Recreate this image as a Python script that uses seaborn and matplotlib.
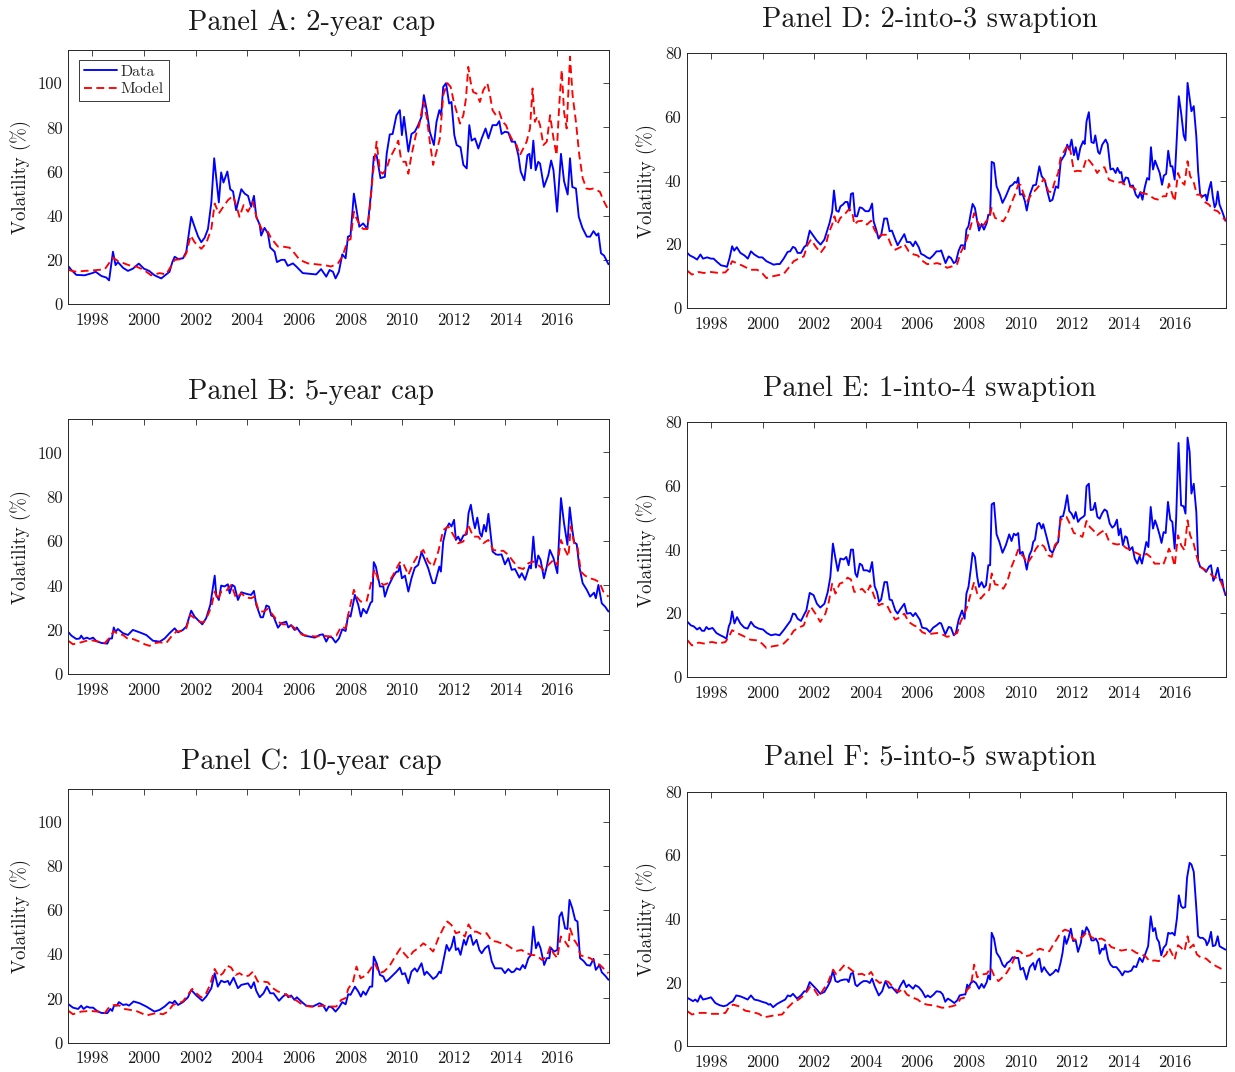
import matplotlib
matplotlib.use("Agg")
import matplotlib.pyplot as plt
import seaborn as sns

# ---------------------------------------------------------------------------
# Implied volatilities (%), observed ("Data") and fitted ("Model"),
# as (year, value) pairs.
# ---------------------------------------------------------------------------
CAP2_DATA = [
    (1997.08, 17.0), (1997.19, 15.4), (1997.38, 13.2), (1997.7, 13.0), (1998.0, 14.0), (1998.13, 14.6),
    (1998.35, 12.7), (1998.54, 12.0), (1998.65, 10.7), (1998.8, 23.7), (1998.9, 17.6), (1998.99, 19.0),
    (1999.19, 16.4), (1999.38, 15.0), (1999.57, 16.0), (1999.8, 18.3), (2000.0, 16.0), (2000.2, 15.0),
    (2000.41, 13.0), (2000.67, 11.6), (2000.99, 14.6), (2001.1, 19.0), (2001.19, 21.4), (2001.32, 20.4),
    (2001.51, 20.7), (2001.64, 23.7), (2001.83, 39.5), (2001.96, 35.0), (2002.1, 30.5), (2002.22, 28.0),
    (2002.35, 30.0), (2002.48, 34.0), (2002.61, 46.0), (2002.72, 66.0), (2002.9, 46.0), (2002.99, 59.6),
    (2003.08, 55.0), (2003.23, 60.0), (2003.34, 52.0), (2003.45, 51.0), (2003.57, 42.5), (2003.77, 52.0),
    (2003.9, 50.0), (2004.03, 49.0), (2004.15, 44.0), (2004.26, 49.0), (2004.35, 39.5), (2004.48, 36.0),
    (2004.54, 31.0), (2004.67, 34.5), (2004.8, 32.0), (2004.89, 25.6), (2005.06, 23.7), (2005.15, 19.0),
    (2005.32, 20.0), (2005.45, 20.0), (2005.57, 17.3), (2005.77, 18.4), (2005.9, 17.0), (2006.15, 14.0),
    (2006.67, 13.4), (2006.86, 15.8), (2007.06, 12.4), (2007.19, 15.4), (2007.32, 14.6), (2007.42, 11.6),
    (2007.55, 14.6), (2007.68, 22.5), (2007.81, 20.7), (2007.9, 30.5), (2008.0, 31.0), (2008.13, 50.0),
    (2008.23, 43.0), (2008.34, 35.0), (2008.49, 36.5), (2008.65, 34.0), (2008.81, 52.0), (2008.9, 66.7),
    (2009.01, 67.4), (2009.16, 57.0), (2009.33, 57.6), (2009.4, 68.0), (2009.52, 76.8), (2009.63, 77.0),
    (2009.78, 85.5), (2009.91, 87.8), (2009.99, 76.5), (2010.07, 84.8), (2010.24, 69.0), (2010.36, 77.0),
    (2010.49, 78.0), (2010.62, 81.0), (2010.75, 84.8), (2010.84, 94.6), (2010.95, 87.8), (2011.07, 78.0),
    (2011.23, 72.0), (2011.33, 82.5), (2011.44, 87.8), (2011.51, 85.5), (2011.59, 98.3), (2011.7, 100.0),
    (2011.82, 90.8), (2011.91, 91.5), (2012.02, 76.5), (2012.11, 72.0), (2012.26, 71.0), (2012.37, 63.0),
    (2012.5, 61.4), (2012.6, 81.0), (2012.69, 74.0), (2012.82, 75.0), (2012.95, 70.4), (2013.08, 75.0),
    (2013.23, 79.5), (2013.34, 75.0), (2013.5, 81.0), (2013.66, 81.0), (2013.76, 82.8), (2013.85, 77.0),
    (2013.98, 78.0), (2014.11, 77.7), (2014.24, 73.5), (2014.37, 73.5), (2014.5, 67.4), (2014.59, 60.0),
    (2014.73, 56.0), (2014.85, 67.4), (2014.93, 68.0), (2014.99, 61.4), (2015.08, 74.0), (2015.17, 60.6),
    (2015.27, 64.4), (2015.34, 63.6), (2015.49, 53.0), (2015.66, 58.4), (2015.77, 65.0), (2015.86, 60.6),
    (2016.0, 41.8), (2016.15, 68.0), (2016.27, 55.6), (2016.41, 49.6), (2016.5, 66.0), (2016.59, 53.0),
    (2016.73, 52.3), (2016.84, 39.5), (2016.98, 34.5), (2017.15, 30.5), (2017.28, 30.5), (2017.41, 33.0),
    (2017.53, 31.0), (2017.6, 32.0), (2017.7, 23.0), (2017.82, 21.9), (2017.99, 18.0),
]
CAP2_MODEL = [
    (1997.08, 15.4), (1997.38, 14.6), (1997.7, 15.0), (1998.0, 15.2), (1998.48, 15.7), (1998.8, 21.0),
    (1998.99, 19.5), (1999.32, 18.0), (1999.57, 17.0), (1999.7, 17.0), (2000.0, 15.4), (2000.28, 13.0),
    (2000.61, 14.0), (2000.86, 13.4), (2001.19, 20.0), (2001.51, 20.4), (2001.64, 23.0), (2001.81, 31.0),
    (2001.96, 28.0), (2002.22, 25.0), (2002.41, 27.5), (2002.61, 34.0), (2002.74, 45.5), (2002.9, 41.0),
    (2003.03, 43.3), (2003.25, 47.0), (2003.45, 49.0), (2003.57, 44.8), (2003.7, 39.5), (2003.86, 44.8),
    (2004.03, 41.8), (2004.22, 46.3), (2004.37, 38.8), (2004.61, 32.7), (2004.8, 32.7), (2004.93, 29.7),
    (2005.19, 26.0), (2005.38, 26.0), (2005.64, 25.5), (2005.83, 23.0), (2006.03, 20.0), (2006.35, 18.4),
    (2006.67, 18.0), (2006.99, 17.6), (2007.25, 17.0), (2007.51, 18.4), (2007.68, 21.4), (2007.9, 29.0),
    (2008.0, 29.3), (2008.13, 41.8), (2008.23, 38.8), (2008.36, 35.7), (2008.49, 34.0), (2008.65, 34.0),
    (2008.75, 43.3), (2008.85, 57.0), (2009.01, 73.5), (2009.14, 60.0), (2009.25, 59.0), (2009.4, 61.4),
    (2009.52, 66.0), (2009.72, 70.4), (2009.85, 74.0), (2009.95, 66.0), (2010.04, 64.4), (2010.14, 64.4),
    (2010.24, 59.0), (2010.36, 67.4), (2010.53, 76.5), (2010.66, 81.0), (2010.82, 91.5), (2010.95, 84.8),
    (2011.07, 73.5), (2011.2, 63.0), (2011.33, 69.0), (2011.46, 75.0), (2011.59, 94.6), (2011.75, 100.0),
    (2011.88, 98.3), (2012.0, 91.5), (2012.11, 87.0), (2012.24, 81.7), (2012.37, 85.5), (2012.47, 93.0),
    (2012.56, 107.4), (2012.65, 100.6), (2012.75, 96.0), (2012.88, 95.3), (2013.01, 91.5), (2013.14, 96.8),
    (2013.3, 100.0), (2013.4, 94.6), (2013.5, 87.8), (2013.63, 85.5), (2013.76, 87.0), (2013.89, 82.5),
    (2014.02, 81.0), (2014.17, 76.5), (2014.3, 73.5), (2014.43, 72.0), (2014.56, 67.4), (2014.69, 70.4),
    (2014.82, 73.5), (2014.95, 79.5), (2015.05, 97.6), (2015.14, 82.5), (2015.23, 84.8), (2015.34, 81.0),
    (2015.47, 72.0), (2015.6, 73.5), (2015.73, 85.5), (2015.86, 75.0), (2015.98, 67.4), (2016.09, 91.5),
    (2016.18, 106.0), (2016.27, 87.0), (2016.37, 79.5), (2016.5, 112.0), (2016.6, 94.6), (2016.73, 82.5),
    (2016.86, 67.4), (2016.99, 57.0), (2017.14, 52.3), (2017.27, 52.0), (2017.4, 52.3), (2017.53, 51.6),
    (2017.66, 50.8), (2017.79, 47.0), (2017.99, 42.5),
]

CAP5_DATA = [
    (1997.08, 18.8), (1997.19, 17.3), (1997.38, 15.8), (1997.51, 16.0), (1997.57, 17.3), (1997.66, 15.8),
    (1997.79, 16.4), (1997.9, 15.8), (1998.03, 16.4), (1998.15, 14.9), (1998.35, 14.0), (1998.58, 13.7),
    (1998.67, 16.0), (1998.76, 16.0), (1998.83, 21.0), (1998.9, 19.0), (1998.99, 20.3), (1999.19, 18.4),
    (1999.38, 17.6), (1999.57, 19.9), (1999.83, 18.8), (2000.09, 17.6), (2000.35, 15.0), (2000.61, 14.6),
    (2000.8, 16.0), (2000.99, 18.4), (2001.19, 20.6), (2001.32, 18.8), (2001.51, 19.9), (2001.64, 21.4),
    (2001.83, 28.6), (2001.96, 25.9), (2002.09, 24.4), (2002.26, 22.4), (2002.41, 25.2), (2002.57, 31.2),
    (2002.74, 44.4), (2002.8, 35.7), (2002.9, 33.4), (2002.99, 39.9), (2003.12, 39.5), (2003.25, 40.5),
    (2003.32, 36.4), (2003.42, 40.2), (2003.51, 39.5), (2003.64, 33.4), (2003.77, 36.9), (2003.9, 36.4),
    (2004.03, 36.0), (2004.15, 35.7), (2004.26, 37.5), (2004.35, 31.2), (2004.52, 25.6), (2004.61, 25.6),
    (2004.74, 30.9), (2004.84, 30.4), (2004.93, 26.4), (2005.02, 25.9), (2005.19, 20.9), (2005.32, 22.9),
    (2005.51, 23.6), (2005.59, 21.0), (2005.7, 22.1), (2005.83, 19.9), (2005.92, 21.0), (2006.03, 19.1),
    (2006.22, 17.3), (2006.41, 16.9), (2006.61, 16.4), (2006.8, 17.6), (2006.93, 17.9), (2007.06, 14.6),
    (2007.16, 16.9), (2007.29, 16.4), (2007.42, 14.2), (2007.55, 16.0), (2007.68, 20.2), (2007.81, 19.4),
    (2007.91, 26.7), (2008.0, 25.9), (2008.17, 35.7), (2008.3, 31.2), (2008.4, 25.9), (2008.49, 29.4),
    (2008.62, 27.4), (2008.78, 32.2), (2008.84, 32.7), (2008.9, 50.5), (2008.98, 48.5), (2009.14, 39.5),
    (2009.27, 39.5), (2009.33, 34.9), (2009.46, 39.5), (2009.65, 44.0), (2009.78, 46.2), (2009.85, 46.2),
    (2009.91, 48.9), (2009.99, 43.2), (2010.11, 44.4), (2010.24, 37.2), (2010.36, 43.2), (2010.49, 48.0),
    (2010.62, 49.2), (2010.75, 55.0), (2010.88, 51.5), (2011.01, 47.7), (2011.18, 41.0), (2011.27, 41.0),
    (2011.44, 48.5), (2011.5, 46.2), (2011.59, 59.8), (2011.7, 65.5), (2011.82, 68.0), (2011.91, 66.6),
    (2012.01, 69.6), (2012.08, 60.5), (2012.17, 62.0), (2012.26, 59.8), (2012.37, 62.5), (2012.5, 63.1),
    (2012.57, 72.6), (2012.66, 76.4), (2012.75, 69.6), (2012.82, 65.8), (2012.91, 70.6), (2013.01, 63.6),
    (2013.08, 62.0), (2013.17, 67.3), (2013.25, 64.3), (2013.34, 72.3), (2013.5, 55.3), (2013.63, 54.0),
    (2013.72, 53.8), (2013.85, 54.0), (2013.98, 49.5), (2014.11, 52.3), (2014.24, 47.0), (2014.37, 47.4),
    (2014.54, 43.5), (2014.63, 45.5), (2014.76, 42.5), (2014.93, 48.9), (2014.99, 47.7), (2015.08, 62.0),
    (2015.18, 48.0), (2015.27, 53.5), (2015.36, 51.5), (2015.49, 43.2), (2015.6, 48.5), (2015.72, 56.0),
    (2015.86, 52.3), (2016.01, 45.5), (2016.15, 79.4), (2016.27, 68.0), (2016.4, 58.3), (2016.49, 75.2),
    (2016.59, 65.0), (2016.66, 59.5), (2016.76, 58.6), (2016.86, 48.5), (2016.99, 41.0), (2017.15, 38.0),
    (2017.28, 34.9), (2017.43, 36.7), (2017.5, 34.2), (2017.6, 40.2), (2017.73, 31.9), (2017.86, 30.4),
    (2017.99, 28.2),
]
CAP5_MODEL = [
    (1997.08, 14.9), (1997.25, 13.4), (1997.57, 14.3), (1997.9, 15.4), (1998.22, 14.6), (1998.48, 13.9),
    (1998.67, 16.4), (1998.83, 19.4), (1998.99, 18.0), (1999.19, 17.6), (1999.38, 15.8), (1999.57, 15.8),
    (1999.83, 14.6), (2000.03, 13.4), (2000.22, 12.7), (2000.41, 13.9), (2000.61, 14.3), (2000.86, 13.9),
    (2001.06, 16.9), (2001.25, 19.1), (2001.45, 19.4), (2001.64, 20.6), (2001.79, 26.7), (2001.96, 25.2),
    (2002.15, 23.6), (2002.31, 23.3), (2002.48, 26.7), (2002.61, 30.4), (2002.74, 37.2), (2002.86, 33.4),
    (2002.99, 37.2), (2003.19, 37.5), (2003.38, 40.2), (2003.57, 34.2), (2003.77, 36.4), (2003.96, 34.5),
    (2004.15, 34.2), (2004.28, 34.9), (2004.45, 28.2), (2004.63, 28.2), (2004.8, 29.4), (2004.99, 26.7),
    (2005.19, 23.6), (2005.38, 22.4), (2005.57, 22.4), (2005.77, 21.4), (2005.96, 19.1), (2006.15, 17.6),
    (2006.41, 17.2), (2006.67, 16.9), (2006.93, 17.3), (2007.19, 16.9), (2007.45, 17.3), (2007.64, 21.4),
    (2007.81, 20.6), (2007.91, 26.7), (2008.13, 38.0), (2008.23, 34.9), (2008.39, 32.7), (2008.62, 32.7),
    (2008.81, 41.7), (2008.94, 47.4), (2009.07, 42.5), (2009.27, 40.2), (2009.46, 41.0), (2009.65, 44.7),
    (2009.85, 49.2), (2009.94, 50.8), (2010.07, 49.2), (2010.24, 44.7), (2010.43, 50.0), (2010.62, 53.8),
    (2010.82, 56.0), (2011.01, 50.8), (2011.2, 48.5), (2011.4, 55.3), (2011.59, 65.0), (2011.79, 66.6),
    (2011.98, 62.8), (2012.17, 59.0), (2012.37, 59.8), (2012.56, 67.3), (2012.75, 62.0), (2012.95, 62.0),
    (2013.14, 59.0), (2013.34, 60.5), (2013.53, 56.0), (2013.72, 55.6), (2013.92, 55.6), (2014.11, 53.8),
    (2014.3, 50.8), (2014.5, 48.0), (2014.69, 47.4), (2014.89, 50.0), (2015.08, 50.8), (2015.27, 49.2),
    (2015.47, 47.0), (2015.66, 49.2), (2015.86, 51.5), (2016.01, 49.2), (2016.15, 60.5), (2016.31, 56.0),
    (2016.44, 53.0), (2016.53, 66.6), (2016.66, 59.0), (2016.79, 57.5), (2016.92, 46.2), (2017.08, 44.4),
    (2017.28, 43.2), (2017.47, 42.5), (2017.64, 41.4), (2017.79, 37.2), (2017.99, 34.9),
]

CAP10_DATA = [
    (1997.08, 17.3), (1997.25, 15.8), (1997.45, 15.2), (1997.57, 16.7), (1997.66, 15.2), (1997.79, 16.3),
    (1997.9, 15.8), (1998.03, 15.8), (1998.18, 14.3), (1998.35, 13.4), (1998.58, 13.3), (1998.7, 15.2),
    (1998.77, 14.3), (1998.84, 16.7), (1998.95, 16.7), (1999.03, 18.3), (1999.19, 17.0), (1999.32, 17.3),
    (1999.42, 16.7), (1999.6, 18.6), (1999.83, 17.8), (2000.09, 16.3), (2000.41, 14.0), (2000.61, 14.8),
    (2000.8, 16.3), (2000.99, 18.3), (2001.12, 17.8), (2001.19, 18.9), (2001.32, 17.0), (2001.51, 18.3),
    (2001.7, 20.4), (2001.83, 23.8), (2002.03, 21.3), (2002.26, 18.9), (2002.41, 20.8), (2002.61, 24.6),
    (2002.74, 31.4), (2002.86, 25.3), (2002.99, 28.0), (2003.12, 27.3), (2003.25, 27.9), (2003.32, 26.1),
    (2003.47, 29.4), (2003.64, 24.6), (2003.77, 26.1), (2004.03, 26.8), (2004.15, 24.6), (2004.26, 27.3),
    (2004.35, 23.4), (2004.48, 20.5), (2004.63, 22.3), (2004.76, 25.3), (2004.89, 22.3), (2005.02, 22.3),
    (2005.23, 18.9), (2005.38, 20.8), (2005.51, 21.9), (2005.59, 20.5), (2005.7, 21.3), (2005.83, 19.3),
    (2005.92, 20.5), (2006.09, 18.6), (2006.28, 16.7), (2006.54, 16.3), (2006.8, 17.8), (2006.93, 17.0),
    (2007.06, 14.3), (2007.16, 16.3), (2007.29, 15.8), (2007.42, 14.0), (2007.55, 15.8), (2007.68, 18.3),
    (2007.81, 17.3), (2007.91, 21.9), (2008.0, 21.6), (2008.17, 25.3), (2008.3, 23.1), (2008.4, 20.8),
    (2008.49, 23.1), (2008.59, 21.6), (2008.75, 25.3), (2008.84, 25.3), (2008.9, 38.9), (2009.01, 35.9),
    (2009.14, 30.6), (2009.27, 29.9), (2009.36, 27.6), (2009.46, 28.4), (2009.65, 30.6), (2009.78, 32.1),
    (2009.91, 33.9), (2010.0, 30.9), (2010.11, 31.4), (2010.24, 26.8), (2010.36, 32.1), (2010.49, 33.6),
    (2010.58, 32.1), (2010.75, 35.9), (2010.86, 30.6), (2010.95, 32.1), (2011.07, 30.6), (2011.2, 28.8),
    (2011.33, 29.9), (2011.44, 32.1), (2011.5, 31.4), (2011.59, 36.7), (2011.72, 44.2), (2011.82, 41.5),
    (2011.91, 43.4), (2012.01, 48.0), (2012.08, 41.9), (2012.17, 42.7), (2012.26, 39.7), (2012.39, 46.5),
    (2012.47, 44.2), (2012.57, 48.0), (2012.65, 48.7), (2012.75, 44.2), (2012.88, 46.5), (2012.99, 41.9),
    (2013.08, 40.4), (2013.21, 42.7), (2013.34, 43.9), (2013.47, 36.7), (2013.59, 33.6), (2013.72, 33.6),
    (2013.85, 33.6), (2013.98, 31.4), (2014.11, 33.3), (2014.24, 31.8), (2014.33, 32.1), (2014.43, 33.6),
    (2014.56, 32.9), (2014.67, 35.1), (2014.76, 33.6), (2014.89, 38.2), (2014.99, 39.7), (2015.08, 52.5),
    (2015.18, 42.7), (2015.27, 45.4), (2015.36, 42.7), (2015.5, 35.1), (2015.6, 38.2), (2015.7, 38.2),
    (2015.75, 43.0), (2015.88, 41.2), (2016.01, 41.9), (2016.09, 57.0), (2016.18, 59.0), (2016.31, 51.7),
    (2016.4, 51.4), (2016.48, 64.6), (2016.59, 60.8), (2016.7, 55.5), (2016.79, 54.8), (2016.89, 38.2),
    (2017.02, 37.0), (2017.15, 35.1), (2017.28, 34.8), (2017.41, 37.9), (2017.5, 32.9), (2017.64, 35.1),
    (2017.73, 31.8), (2017.86, 30.3), (2017.99, 28.4),
]
CAP10_MODEL = [
    (1997.08, 14.3), (1997.25, 12.8), (1997.57, 14.0), (1997.9, 14.3), (1998.22, 14.0), (1998.48, 13.3),
    (1998.67, 16.3), (1998.86, 17.0), (1999.06, 16.7), (1999.25, 15.2), (1999.45, 14.8), (1999.7, 14.3),
    (1999.9, 13.3), (2000.09, 12.2), (2000.28, 12.8), (2000.48, 13.3), (2000.74, 12.8), (2000.93, 14.0),
    (2001.12, 17.0), (2001.32, 17.8), (2001.51, 18.6), (2001.7, 21.6), (2001.87, 24.3), (2002.03, 22.3),
    (2002.22, 20.4), (2002.41, 22.3), (2002.57, 26.4), (2002.74, 33.3), (2002.9, 29.9), (2003.06, 31.4),
    (2003.23, 34.8), (2003.38, 33.9), (2003.55, 30.6), (2003.7, 31.4), (2003.9, 29.9), (2004.06, 30.3),
    (2004.22, 32.1), (2004.41, 27.6), (2004.61, 27.6), (2004.8, 27.3), (2004.99, 24.6), (2005.19, 23.1),
    (2005.38, 22.3), (2005.57, 21.3), (2005.77, 20.1), (2005.96, 18.6), (2006.15, 17.0), (2006.41, 16.3),
    (2006.67, 16.3), (2006.93, 16.7), (2007.19, 16.3), (2007.45, 16.3), (2007.64, 19.3), (2007.81, 20.1),
    (2007.91, 24.3), (2008.1, 27.6), (2008.23, 34.4), (2008.39, 29.1), (2008.62, 30.6), (2008.81, 33.9),
    (2008.94, 35.9), (2009.11, 31.4), (2009.29, 32.1), (2009.5, 34.4), (2009.69, 38.2), (2009.85, 41.2),
    (2009.94, 42.7), (2010.07, 40.4), (2010.24, 38.2), (2010.43, 41.2), (2010.62, 42.7), (2010.82, 44.9),
    (2011.01, 43.4), (2011.2, 41.2), (2011.4, 47.2), (2011.59, 51.7), (2011.75, 54.8), (2011.91, 53.2),
    (2012.08, 49.5), (2012.26, 50.2), (2012.43, 48.0), (2012.57, 53.5), (2012.73, 50.2), (2012.88, 50.2),
    (2013.08, 49.0), (2013.27, 49.5), (2013.47, 46.0), (2013.66, 45.7), (2013.85, 44.9), (2014.05, 44.2),
    (2014.24, 42.7), (2014.43, 41.5), (2014.63, 41.9), (2014.82, 40.4), (2015.02, 39.7), (2015.21, 39.4),
    (2015.41, 37.4), (2015.6, 38.9), (2015.73, 43.4), (2015.86, 40.4), (2016.01, 38.2), (2016.14, 48.0),
    (2016.31, 45.7), (2016.44, 43.4), (2016.5, 51.7), (2016.66, 46.5), (2016.79, 44.2), (2016.91, 39.4),
    (2017.08, 38.9), (2017.28, 38.2), (2017.47, 36.7), (2017.66, 35.1), (2017.82, 33.3), (2017.99, 31.4),
]

SWP23_DATA = [
    (1997.08, 17.3), (1997.18, 16.5), (1997.33, 15.9), (1997.46, 15.2), (1997.59, 16.8), (1997.69, 15.5),
    (1997.85, 15.9), (1998.0, 15.5), (1998.1, 15.5), (1998.23, 14.5), (1998.39, 13.4), (1998.56, 13.1),
    (1998.62, 12.9), (1998.72, 15.7), (1998.82, 19.4), (1998.9, 18.0), (1999.0, 19.1), (1999.14, 17.3),
    (1999.3, 16.5), (1999.43, 15.5), (1999.55, 17.8), (1999.68, 16.8), (1999.86, 15.9), (1999.99, 15.9),
    (2000.15, 14.7), (2000.3, 14.1), (2000.43, 13.6), (2000.56, 13.8), (2000.67, 13.8), (2000.82, 15.5),
    (2000.97, 17.6), (2001.07, 17.8), (2001.18, 19.2), (2001.27, 18.8), (2001.36, 17.3), (2001.49, 17.3),
    (2001.62, 19.2), (2001.7, 19.7), (2001.83, 24.3), (2001.96, 22.8), (2002.1, 21.2), (2002.25, 19.9),
    (2002.4, 21.5), (2002.5, 24.1), (2002.6, 26.7), (2002.7, 30.2), (2002.77, 36.9), (2002.86, 30.6),
    (2002.95, 30.2), (2003.02, 31.9), (2003.12, 32.5), (2003.21, 33.3), (2003.3, 33.3), (2003.37, 30.6),
    (2003.43, 35.8), (2003.51, 36.1), (2003.59, 28.8), (2003.67, 28.8), (2003.77, 31.6), (2003.86, 31.4),
    (2003.99, 30.4), (2004.12, 30.4), (2004.18, 31.2), (2004.25, 32.8), (2004.31, 27.2), (2004.41, 24.6),
    (2004.5, 21.8), (2004.6, 22.8), (2004.72, 28.1), (2004.83, 28.1), (2004.93, 24.1), (2005.02, 24.3),
    (2005.15, 21.5), (2005.24, 19.7), (2005.35, 21.2), (2005.5, 23.2), (2005.6, 20.7), (2005.73, 20.7),
    (2005.84, 19.4), (2005.93, 20.9), (2006.06, 19.1), (2006.15, 17.0), (2006.28, 16.5), (2006.38, 15.9),
    (2006.49, 15.5), (2006.62, 16.5), (2006.75, 17.8), (2006.88, 17.8), (2006.93, 18.1), (2007.1, 14.1),
    (2007.22, 16.2), (2007.31, 15.7), (2007.42, 14.1), (2007.5, 14.5), (2007.61, 18.0), (2007.7, 19.7),
    (2007.78, 19.7), (2007.84, 18.5), (2007.91, 24.6), (2007.99, 25.7), (2008.08, 29.8), (2008.15, 32.7),
    (2008.24, 31.4), (2008.33, 27.2), (2008.4, 24.3), (2008.5, 26.4), (2008.59, 24.6), (2008.7, 26.7),
    (2008.76, 29.3), (2008.83, 29.3), (2008.89, 45.9), (2008.98, 45.5), (2009.08, 38.2), (2009.21, 35.6),
    (2009.31, 33.0), (2009.44, 35.1), (2009.6, 38.2), (2009.7, 38.7), (2009.79, 39.6), (2009.86, 39.3),
    (2009.92, 41.0), (2009.99, 35.6), (2010.09, 35.8), (2010.18, 33.5), (2010.25, 30.6), (2010.37, 35.6),
    (2010.5, 38.5), (2010.61, 38.7), (2010.74, 44.5), (2010.83, 41.4), (2010.96, 40.0), (2011.05, 36.6),
    (2011.15, 33.5), (2011.25, 34.0), (2011.38, 38.2), (2011.47, 37.7), (2011.57, 46.1), (2011.73, 48.2),
    (2011.82, 51.3), (2011.9, 49.7), (2011.99, 52.9), (2012.08, 48.0), (2012.15, 50.5), (2012.24, 46.6),
    (2012.33, 50.3), (2012.44, 52.4), (2012.5, 51.5), (2012.57, 58.6), (2012.66, 61.5), (2012.76, 52.1),
    (2012.85, 51.8), (2012.91, 54.2), (2013.02, 49.0), (2013.08, 48.4), (2013.18, 51.3), (2013.31, 52.9),
    (2013.39, 51.5), (2013.5, 43.5), (2013.6, 43.8), (2013.7, 42.4), (2013.77, 44.0), (2013.86, 42.4),
    (2013.92, 42.7), (2013.99, 39.0), (2014.09, 41.0), (2014.18, 40.8), (2014.27, 38.2), (2014.37, 38.5),
    (2014.48, 35.6), (2014.57, 34.6), (2014.66, 36.4), (2014.74, 34.0), (2014.83, 37.9), (2014.92, 40.8),
    (2015.0, 40.3), (2015.07, 50.5), (2015.15, 43.5), (2015.23, 46.3), (2015.3, 44.8), (2015.41, 42.4),
    (2015.5, 38.7), (2015.57, 41.6), (2015.66, 42.1), (2015.74, 49.4), (2015.83, 44.5), (2015.9, 44.5),
    (2015.99, 40.3), (2016.08, 54.5), (2016.15, 66.5), (2016.24, 61.3), (2016.34, 54.2), (2016.41, 52.6),
    (2016.49, 70.7), (2016.57, 66.0), (2016.64, 61.8), (2016.73, 63.4), (2016.83, 53.9), (2016.9, 42.9),
    (2016.98, 35.6), (2017.08, 35.1), (2017.19, 35.6), (2017.24, 33.7), (2017.32, 37.2), (2017.4, 39.6),
    (2017.47, 34.8), (2017.54, 31.6), (2017.6, 32.7), (2017.66, 36.6), (2017.73, 32.5), (2017.83, 30.4),
    (2017.96, 27.4),
]
SWP23_MODEL = [
    (1997.08, 11.7), (1997.26, 10.5), (1997.52, 11.3), (1997.72, 11.0), (1998.0, 11.3), (1998.3, 11.0),
    (1998.56, 11.2), (1998.69, 12.4), (1998.82, 14.7), (1999.0, 14.1), (1999.27, 13.1), (1999.53, 12.0),
    (1999.79, 12.0), (1999.98, 11.0), (2000.15, 9.4), (2000.37, 9.9), (2000.59, 10.3), (2000.82, 10.7),
    (2001.01, 12.6), (2001.21, 14.7), (2001.4, 15.5), (2001.6, 16.2), (2001.75, 19.9), (2001.88, 21.5),
    (2002.05, 19.4), (2002.25, 17.3), (2002.44, 19.4), (2002.57, 23.6), (2002.7, 26.2), (2002.79, 28.8),
    (2002.89, 26.2), (2003.02, 28.3), (2003.17, 29.3), (2003.34, 30.9), (2003.47, 30.6), (2003.56, 26.2),
    (2003.69, 27.2), (2003.86, 27.4), (2004.05, 26.2), (2004.21, 27.4), (2004.34, 24.6), (2004.5, 22.5),
    (2004.63, 23.0), (2004.83, 23.0), (2004.98, 19.9), (2005.15, 18.3), (2005.35, 19.1), (2005.5, 20.1),
    (2005.67, 17.8), (2005.87, 16.8), (2006.02, 16.5), (2006.19, 14.9), (2006.38, 13.8), (2006.58, 13.8),
    (2006.77, 14.1), (2006.97, 13.6), (2007.16, 12.6), (2007.36, 13.1), (2007.55, 13.8), (2007.68, 17.3),
    (2007.81, 19.4), (2007.94, 22.0), (2008.08, 25.7), (2008.21, 29.8), (2008.33, 27.2), (2008.5, 25.1),
    (2008.67, 27.2), (2008.8, 28.3), (2008.89, 31.4), (2009.02, 28.3), (2009.19, 27.7), (2009.34, 27.2),
    (2009.49, 29.3), (2009.66, 33.0), (2009.79, 35.6), (2009.92, 38.7), (2010.01, 38.7), (2010.14, 35.6),
    (2010.27, 33.5), (2010.44, 35.8), (2010.61, 37.2), (2010.76, 38.7), (2010.92, 40.6), (2011.09, 36.6),
    (2011.22, 36.4), (2011.34, 39.8), (2011.47, 42.4), (2011.56, 47.1), (2011.73, 49.7), (2011.86, 51.3),
    (2011.95, 49.2), (2012.08, 42.9), (2012.24, 43.1), (2012.41, 42.9), (2012.57, 47.1), (2012.7, 46.1),
    (2012.85, 44.5), (2012.98, 42.4), (2013.14, 44.0), (2013.27, 44.2), (2013.44, 40.3), (2013.6, 39.8),
    (2013.77, 39.3), (2013.92, 39.6), (2014.09, 38.5), (2014.25, 38.2), (2014.4, 37.7), (2014.57, 36.6),
    (2014.74, 36.1), (2014.9, 35.8), (2015.05, 35.1), (2015.21, 34.3), (2015.38, 34.0), (2015.54, 35.1),
    (2015.66, 35.1), (2015.77, 39.0), (2015.9, 35.6), (2015.99, 33.5), (2016.12, 42.4), (2016.24, 39.8),
    (2016.37, 38.7), (2016.49, 46.1), (2016.59, 41.4), (2016.72, 39.8), (2016.85, 35.6), (2016.98, 35.6),
    (2017.15, 33.3), (2017.32, 32.5), (2017.47, 30.9), (2017.66, 30.4), (2017.83, 28.8), (2017.96, 27.4),
]

SWP14_DATA = [
    (1997.09, 17.3), (1997.22, 16.2), (1997.33, 15.9), (1997.46, 14.9), (1997.56, 15.5), (1997.65, 14.5),
    (1997.74, 14.5), (1997.82, 15.7), (1997.91, 15.0), (1998.06, 15.4), (1998.21, 13.8), (1998.36, 13.1),
    (1998.49, 12.6), (1998.6, 12.0), (1998.69, 15.9), (1998.75, 17.0), (1998.82, 20.6), (1998.91, 16.8),
    (1999.01, 18.8), (1999.14, 16.8), (1999.29, 15.5), (1999.42, 15.2), (1999.55, 17.3), (1999.68, 15.9),
    (1999.85, 15.2), (2000.02, 14.9), (2000.17, 13.8), (2000.33, 13.1), (2000.5, 13.4), (2000.66, 13.1),
    (2000.82, 14.7), (2000.98, 16.5), (2001.08, 17.6), (2001.18, 19.9), (2001.27, 19.7), (2001.36, 18.3),
    (2001.49, 17.6), (2001.62, 19.7), (2001.7, 20.9), (2001.83, 26.4), (2001.98, 25.7), (2002.11, 23.0),
    (2002.24, 21.8), (2002.4, 23.0), (2002.53, 26.7), (2002.63, 31.4), (2002.73, 41.9), (2002.83, 37.2),
    (2002.92, 33.3), (2003.02, 37.2), (2003.15, 36.9), (2003.25, 37.7), (2003.34, 35.1), (2003.43, 40.0),
    (2003.51, 40.0), (2003.6, 32.5), (2003.67, 31.4), (2003.77, 35.6), (2003.86, 35.1), (2003.92, 33.5),
    (2004.05, 33.5), (2004.16, 33.0), (2004.25, 36.1), (2004.35, 28.5), (2004.44, 26.7), (2004.52, 23.6),
    (2004.6, 24.3), (2004.73, 29.8), (2004.83, 29.8), (2004.93, 24.3), (2005.02, 24.1), (2005.15, 20.9),
    (2005.24, 19.9), (2005.34, 21.2), (2005.5, 23.0), (2005.6, 19.9), (2005.74, 20.1), (2005.84, 19.1),
    (2005.93, 20.1), (2006.1, 18.0), (2006.19, 15.5), (2006.36, 15.2), (2006.49, 14.1), (2006.62, 15.5),
    (2006.75, 16.2), (2006.87, 17.0), (2006.93, 16.8), (2007.09, 13.4), (2007.22, 15.7), (2007.31, 15.5),
    (2007.42, 13.1), (2007.5, 13.8), (2007.61, 18.0), (2007.74, 20.9), (2007.84, 18.3), (2007.91, 26.2),
    (2007.99, 28.3), (2008.08, 34.0), (2008.15, 39.0), (2008.24, 37.7), (2008.33, 31.4), (2008.4, 28.3),
    (2008.5, 29.8), (2008.59, 28.1), (2008.67, 28.8), (2008.76, 35.1), (2008.83, 35.1), (2008.89, 54.2),
    (2008.98, 54.7), (2009.08, 44.8), (2009.19, 42.4), (2009.31, 39.0), (2009.44, 41.4), (2009.57, 44.8),
    (2009.66, 42.7), (2009.75, 45.0), (2009.83, 44.5), (2009.92, 45.2), (2009.99, 38.7), (2010.09, 39.3),
    (2010.18, 36.6), (2010.25, 33.7), (2010.35, 38.2), (2010.44, 39.8), (2010.5, 42.4), (2010.57, 43.1),
    (2010.66, 48.0), (2010.74, 48.4), (2010.83, 46.6), (2010.89, 48.0), (2011.02, 44.0), (2011.15, 39.8),
    (2011.25, 39.0), (2011.38, 41.4), (2011.47, 42.4), (2011.56, 50.3), (2011.66, 50.5), (2011.73, 52.9),
    (2011.82, 57.1), (2011.9, 52.1), (2011.99, 51.3), (2012.08, 49.7), (2012.15, 51.8), (2012.24, 48.7),
    (2012.33, 49.7), (2012.44, 50.3), (2012.5, 50.8), (2012.57, 59.9), (2012.66, 60.7), (2012.73, 52.4),
    (2012.83, 52.6), (2012.9, 54.7), (2012.99, 50.3), (2013.08, 49.7), (2013.18, 51.5), (2013.27, 52.6),
    (2013.36, 52.1), (2013.47, 48.2), (2013.57, 46.9), (2013.66, 47.6), (2013.75, 49.4), (2013.82, 44.5),
    (2013.89, 46.6), (2013.98, 41.4), (2014.07, 44.2), (2014.14, 43.8), (2014.24, 39.8), (2014.35, 40.8),
    (2014.44, 37.2), (2014.54, 35.6), (2014.63, 37.9), (2014.72, 35.6), (2014.8, 38.7), (2014.89, 42.4),
    (2014.97, 40.8), (2015.06, 53.4), (2015.15, 46.6), (2015.23, 49.2), (2015.3, 47.6), (2015.41, 44.5),
    (2015.48, 42.1), (2015.56, 45.5), (2015.64, 45.2), (2015.73, 55.0), (2015.82, 49.4), (2015.9, 48.7),
    (2015.99, 40.3), (2016.05, 50.3), (2016.14, 73.5), (2016.24, 53.9), (2016.34, 53.6), (2016.41, 51.3),
    (2016.49, 75.2), (2016.57, 70.7), (2016.64, 57.6), (2016.73, 60.7), (2016.83, 51.8), (2016.9, 36.6),
    (2016.98, 34.6), (2017.1, 34.0), (2017.21, 33.0), (2017.32, 34.6), (2017.4, 35.1), (2017.49, 30.2),
    (2017.57, 31.6), (2017.66, 34.3), (2017.75, 30.4), (2017.83, 30.6), (2017.89, 27.7), (2017.96, 25.7),
]
SWP14_MODEL = [
    (1997.09, 11.5), (1997.26, 9.9), (1997.52, 10.8), (1997.72, 10.5), (1998.04, 11.0), (1998.3, 10.5),
    (1998.56, 11.0), (1998.69, 12.6), (1998.82, 14.7), (1999.01, 13.8), (1999.27, 12.8), (1999.53, 11.7),
    (1999.79, 11.5), (1999.98, 10.5), (2000.15, 9.1), (2000.37, 9.6), (2000.59, 9.9), (2000.82, 10.5),
    (2001.01, 12.0), (2001.21, 14.5), (2001.4, 15.5), (2001.6, 16.2), (2001.75, 19.9), (2001.88, 22.0),
    (2002.05, 19.9), (2002.24, 17.3), (2002.44, 19.9), (2002.57, 23.6), (2002.7, 29.3), (2002.83, 26.2),
    (2002.99, 29.3), (2003.15, 29.8), (2003.3, 31.2), (2003.43, 30.6), (2003.56, 26.7), (2003.69, 27.0),
    (2003.86, 27.7), (2004.03, 26.2), (2004.18, 28.8), (2004.34, 25.1), (2004.51, 22.5), (2004.64, 23.0),
    (2004.83, 22.5), (2004.99, 19.9), (2005.15, 18.0), (2005.34, 18.8), (2005.5, 19.9), (2005.67, 17.3),
    (2005.87, 16.2), (2006.02, 15.7), (2006.19, 14.1), (2006.38, 13.4), (2006.58, 13.6), (2006.77, 13.8),
    (2006.97, 13.4), (2007.16, 12.6), (2007.36, 13.1), (2007.55, 13.8), (2007.68, 17.3), (2007.81, 19.4),
    (2007.94, 22.0), (2008.08, 26.2), (2008.21, 29.8), (2008.33, 26.2), (2008.46, 24.6), (2008.63, 26.2),
    (2008.8, 27.4), (2008.89, 32.5), (2009.02, 29.1), (2009.19, 28.8), (2009.34, 27.7), (2009.49, 29.8),
    (2009.66, 34.6), (2009.79, 37.2), (2009.92, 40.0), (2010.01, 38.7), (2010.14, 37.7), (2010.27, 35.6),
    (2010.44, 37.7), (2010.61, 40.3), (2010.76, 41.9), (2010.92, 41.0), (2011.09, 38.2), (2011.22, 37.7),
    (2011.34, 41.4), (2011.47, 42.7), (2011.56, 49.2), (2011.69, 50.3), (2011.79, 50.3), (2011.92, 48.2),
    (2012.08, 45.2), (2012.24, 44.8), (2012.41, 44.0), (2012.57, 49.0), (2012.7, 47.1), (2012.85, 45.9),
    (2012.98, 44.5), (2013.14, 45.5), (2013.27, 46.1), (2013.44, 42.7), (2013.6, 41.9), (2013.77, 41.6),
    (2013.92, 41.9), (2014.09, 40.6), (2014.25, 40.0), (2014.4, 39.3), (2014.57, 38.7), (2014.74, 37.9),
    (2014.9, 38.7), (2015.05, 37.7), (2015.21, 35.6), (2015.38, 35.6), (2015.54, 35.1), (2015.66, 37.7),
    (2015.77, 40.3), (2015.9, 37.7), (2015.99, 34.8), (2016.12, 44.5), (2016.24, 41.4), (2016.37, 39.8),
    (2016.49, 49.2), (2016.59, 44.5), (2016.72, 42.1), (2016.85, 37.7), (2016.98, 34.6), (2017.15, 33.7),
    (2017.32, 33.0), (2017.47, 31.6), (2017.66, 30.9), (2017.79, 29.8), (2017.96, 26.2),
]

SWP55_DATA = [
    (1997.09, 15.1), (1997.2, 14.6), (1997.3, 14.1), (1997.39, 14.6), (1997.48, 13.9), (1997.59, 15.9),
    (1997.69, 14.6), (1997.84, 14.9), (1998.0, 15.3), (1998.17, 13.5), (1998.34, 12.8), (1998.49, 12.5),
    (1998.62, 12.8), (1998.72, 13.5), (1998.85, 14.1), (1998.98, 15.9), (1999.14, 15.6), (1999.29, 15.1),
    (1999.42, 14.6), (1999.55, 15.9), (1999.68, 14.6), (1999.85, 14.3), (1999.98, 13.9), (2000.15, 13.5),
    (2000.24, 13.0), (2000.3, 13.2), (2000.41, 12.2), (2000.56, 13.2), (2000.76, 14.1), (2000.88, 14.6),
    (2000.98, 15.9), (2001.08, 15.6), (2001.18, 16.4), (2001.34, 14.9), (2001.49, 15.9), (2001.62, 17.2),
    (2001.7, 17.2), (2001.83, 20.1), (2001.98, 18.8), (2002.11, 17.7), (2002.24, 16.4), (2002.4, 17.0),
    (2002.53, 18.8), (2002.63, 20.4), (2002.73, 23.7), (2002.83, 20.4), (2002.92, 20.1), (2003.02, 20.6),
    (2003.17, 20.9), (2003.28, 20.9), (2003.34, 20.1), (2003.43, 22.7), (2003.51, 23.0), (2003.6, 19.3),
    (2003.67, 18.8), (2003.8, 19.8), (2003.92, 20.4), (2004.05, 20.4), (2004.16, 19.8), (2004.25, 21.2),
    (2004.35, 18.8), (2004.51, 15.9), (2004.64, 17.2), (2004.77, 20.4), (2004.9, 18.3), (2005.02, 18.5),
    (2005.22, 16.7), (2005.34, 18.8), (2005.47, 20.6), (2005.58, 18.5), (2005.67, 19.3), (2005.84, 18.0),
    (2005.93, 19.1), (2006.06, 18.5), (2006.19, 17.2), (2006.32, 15.3), (2006.41, 15.9), (2006.51, 15.3),
    (2006.64, 16.2), (2006.75, 17.2), (2006.9, 17.0), (2006.99, 16.2), (2007.09, 13.9), (2007.19, 14.9),
    (2007.31, 14.3), (2007.44, 13.5), (2007.55, 14.3), (2007.65, 15.9), (2007.81, 16.2), (2007.87, 16.2),
    (2007.94, 19.3), (2007.99, 18.3), (2008.08, 19.8), (2008.18, 20.4), (2008.28, 19.8), (2008.4, 18.0),
    (2008.5, 19.5), (2008.59, 18.3), (2008.7, 20.1), (2008.76, 22.2), (2008.83, 20.9), (2008.89, 35.6),
    (2008.98, 33.8), (2009.08, 29.3), (2009.21, 27.7), (2009.31, 25.6), (2009.4, 24.8), (2009.49, 26.1),
    (2009.6, 26.7), (2009.7, 27.9), (2009.79, 27.7), (2009.92, 27.7), (2010.01, 24.0), (2010.11, 24.6),
    (2010.24, 20.9), (2010.37, 24.8), (2010.5, 26.1), (2010.57, 24.0), (2010.66, 26.7), (2010.74, 27.5),
    (2010.83, 23.3), (2010.92, 24.8), (2011.02, 23.5), (2011.15, 22.2), (2011.28, 23.0), (2011.38, 24.0),
    (2011.47, 23.3), (2011.56, 26.1), (2011.64, 29.3), (2011.72, 34.5), (2011.79, 32.1), (2011.87, 34.0),
    (2011.96, 36.9), (2012.05, 33.0), (2012.15, 33.2), (2012.24, 29.6), (2012.35, 32.4), (2012.41, 36.3),
    (2012.48, 35.0), (2012.57, 37.4), (2012.66, 36.1), (2012.76, 33.2), (2012.85, 33.2), (2012.93, 33.8),
    (2013.02, 32.4), (2013.08, 29.0), (2013.17, 30.6), (2013.24, 30.3), (2013.3, 31.9), (2013.41, 27.2),
    (2013.5, 25.6), (2013.6, 24.8), (2013.73, 24.8), (2013.86, 23.5), (2013.96, 22.2), (2014.05, 23.5),
    (2014.18, 23.3), (2014.31, 23.7), (2014.4, 25.1), (2014.5, 24.8), (2014.63, 27.7), (2014.74, 26.4),
    (2014.83, 28.5), (2014.96, 31.4), (2015.06, 40.8), (2015.15, 36.1), (2015.23, 37.1), (2015.3, 33.8),
    (2015.38, 32.7), (2015.47, 28.5), (2015.56, 30.9), (2015.66, 31.9), (2015.74, 35.6), (2015.82, 35.3),
    (2015.9, 35.6), (2015.99, 34.8), (2016.08, 40.3), (2016.15, 47.4), (2016.24, 44.0), (2016.31, 43.4),
    (2016.4, 43.7), (2016.47, 52.9), (2016.57, 57.6), (2016.64, 57.1), (2016.73, 54.8), (2016.83, 43.4),
    (2016.9, 34.5), (2016.98, 34.0), (2017.08, 34.0), (2017.19, 33.2), (2017.24, 31.7), (2017.32, 33.0),
    (2017.4, 35.9), (2017.47, 31.4), (2017.57, 31.7), (2017.66, 34.5), (2017.73, 31.4), (2017.83, 30.9),
    (2017.96, 30.3),
]
SWP55_MODEL = [
    (1997.09, 10.9), (1997.26, 9.9), (1997.52, 10.4), (1997.78, 10.4), (1998.04, 10.1), (1998.3, 10.1),
    (1998.56, 10.4), (1998.72, 12.5), (1998.87, 13.0), (1999.07, 12.5), (1999.33, 11.1), (1999.59, 10.7),
    (1999.86, 10.1), (2000.05, 9.0), (2000.25, 9.3), (2000.5, 9.7), (2000.76, 9.9), (2000.97, 12.0),
    (2001.21, 13.9), (2001.4, 14.6), (2001.6, 15.9), (2001.73, 17.2), (2001.86, 18.8), (2002.01, 17.7),
    (2002.18, 15.6), (2002.38, 18.0), (2002.53, 19.8), (2002.63, 21.9), (2002.74, 24.0), (2002.86, 22.5),
    (2003.02, 24.0), (2003.19, 25.6), (2003.34, 24.6), (2003.51, 23.5), (2003.66, 22.5), (2003.86, 22.7),
    (2004.05, 21.9), (2004.21, 23.3), (2004.38, 20.9), (2004.55, 19.8), (2004.73, 20.6), (2004.89, 20.1),
    (2005.08, 18.3), (2005.28, 17.0), (2005.45, 18.0), (2005.6, 16.2), (2005.8, 15.3), (2006.02, 14.6),
    (2006.19, 13.5), (2006.38, 13.0), (2006.58, 12.8), (2006.77, 12.5), (2006.97, 12.0), (2007.16, 12.2),
    (2007.36, 12.5), (2007.55, 13.0), (2007.68, 14.9), (2007.81, 15.1), (2007.94, 17.7), (2008.08, 18.8),
    (2008.21, 25.6), (2008.33, 21.6), (2008.5, 22.5), (2008.7, 22.7), (2008.85, 24.6), (2008.98, 22.2),
    (2009.15, 20.4), (2009.31, 21.6), (2009.47, 23.0), (2009.63, 25.1), (2009.75, 27.2), (2009.88, 30.0),
    (2010.01, 29.6), (2010.18, 28.2), (2010.37, 28.5), (2010.57, 29.8), (2010.76, 30.6), (2010.96, 30.0),
    (2011.13, 29.8), (2011.28, 31.9), (2011.41, 33.5), (2011.56, 35.6), (2011.73, 36.6), (2011.9, 36.1),
    (2012.05, 33.5), (2012.24, 33.5), (2012.44, 34.5), (2012.59, 36.1), (2012.76, 34.2), (2012.96, 33.5),
    (2013.15, 33.8), (2013.34, 32.9), (2013.53, 31.1), (2013.73, 30.6), (2013.92, 30.0), (2014.12, 30.3),
    (2014.31, 30.3), (2014.5, 29.3), (2014.7, 28.8), (2014.86, 28.2), (2015.01, 26.7), (2015.21, 26.9),
    (2015.38, 26.7), (2015.54, 27.9), (2015.66, 28.8), (2015.77, 30.9), (2015.9, 28.8), (2015.99, 27.2),
    (2016.12, 31.7), (2016.24, 30.9), (2016.37, 29.8), (2016.49, 34.5), (2016.59, 30.9), (2016.72, 31.9),
    (2016.85, 28.8), (2017.02, 27.7), (2017.21, 27.5), (2017.4, 26.1), (2017.6, 25.1), (2017.79, 24.3),
    (2017.96, 23.7),
]

TITLES = [
    "Panel A: 2-year cap", "Panel B: 5-year cap", "Panel C: 10-year cap",
    "Panel D: 2-into-3 swaption", "Panel E: 1-into-4 swaption", "Panel F: 5-into-5 swaption",
]
SERIES = [
    (CAP2_DATA, CAP2_MODEL), (CAP5_DATA, CAP5_MODEL), (CAP10_DATA, CAP10_MODEL),
    (SWP23_DATA, SWP23_MODEL), (SWP14_DATA, SWP14_MODEL), (SWP55_DATA, SWP55_MODEL),
]
YEAR_TICKS = [1998, 2000, 2002, 2004, 2006, 2008, 2010, 2012, 2014, 2016]
CAP_YTICKS = [0, 20, 40, 60, 80, 100]
SWAPTION_YTICKS = [0, 20, 40, 60, 80]
SERIES_LABELS = ["Data", "Model"]

# ---------------------------------------------------------------------------
# Style
# ---------------------------------------------------------------------------
sns.set_style("white")
plt.rcParams["font.family"] = ["cmr10", "DejaVu Serif"]
plt.rcParams["mathtext.fontset"] = "cm"
plt.rcParams["axes.formatter.use_mathtext"] = True
plt.rcParams["axes.unicode_minus"] = False

AXIS_COLOR = "#262626"
DATA_COLOR = "#0000FF"
MODEL_COLOR = "#FF0000"
MODEL_DASH = (0, (4.2, 2.4))

fig = plt.figure(figsize=(12.35, 10.72), dpi=100)

# axes rectangles in figure fractions: left column (caps), right column (swaptions)
RECTS = [
    [0.0553, 0.7164, 0.4376, 0.2369],
    [0.0553, 0.3713, 0.4376, 0.2376],
    [0.0553, 0.0275, 0.4376, 0.2369],
    [0.5563, 0.7127, 0.4368, 0.2376],
    [0.5563, 0.3685, 0.4368, 0.2376],
    [0.5563, 0.0243, 0.4368, 0.2372],
]

for i, (title, (data, model), rect) in enumerate(zip(TITLES, SERIES, RECTS)):
    ax = fig.add_axes(rect)
    is_cap = i < 3

    dt, dv = zip(*data)
    mt, mv = zip(*model)
    sns.lineplot(x=list(dt), y=list(dv), ax=ax, color=DATA_COLOR, linewidth=1.35,
                 estimator=None, sort=False, label=SERIES_LABELS[0], legend=False)
    sns.lineplot(x=list(mt), y=list(mv), ax=ax, color=MODEL_COLOR, linewidth=1.35,
                 linestyle=MODEL_DASH, estimator=None, sort=False,
                 label=SERIES_LABELS[1], legend=False)

    ax.set_xlim(1997.07, 2018.0)
    ax.set_xticks(YEAR_TICKS)
    ax.set_xticklabels([str(y) for y in YEAR_TICKS])
    if is_cap:
        ax.set_ylim(0, 115)
        ax.set_yticks(CAP_YTICKS)
        ax.set_yticklabels([str(v) for v in CAP_YTICKS])
    else:
        ax.set_ylim(0, 80)
        ax.set_yticks(SWAPTION_YTICKS)
        ax.set_yticklabels([str(v) for v in SWAPTION_YTICKS])

    ax.tick_params(axis="both", which="major", direction="in", top=True, right=True,
                   length=4, width=0.6, color=AXIS_COLOR, labelsize=12,
                   labelcolor="#1a1a1a", pad=6)
    ax.tick_params(axis="y", pad=4)
    for sp in ax.spines.values():
        sp.set_visible(True)
        sp.set_color(AXIS_COLOR)
        sp.set_linewidth(0.7)
    ax.grid(False)

    ax.set_xlabel("")
    ax.set_ylabel("Volatility (%)", fontsize=13.5, color="#1a1a1a")
    ax.yaxis.set_label_coords(-0.069 if is_cap else -0.056, 0.5)

    ax.text(0.45, 1.079 if is_cap else 1.103, title, transform=ax.transAxes,
            ha="center", va="baseline", fontsize=20.5, color="#1a1a1a")

    if i == 0:
        leg = ax.legend(loc="upper left", bbox_to_anchor=(0.02, 0.961), borderaxespad=0,
                        fontsize=11.5, handlelength=2.1, handletextpad=0.2, borderpad=0.3,
                        labelspacing=0.2, fancybox=False, framealpha=1, frameon=True)
        leg.get_frame().set_edgecolor("#1a1a1a")
        leg.get_frame().set_linewidth(0.6)

fig.savefig("out.png", dpi=100, facecolor="white")
